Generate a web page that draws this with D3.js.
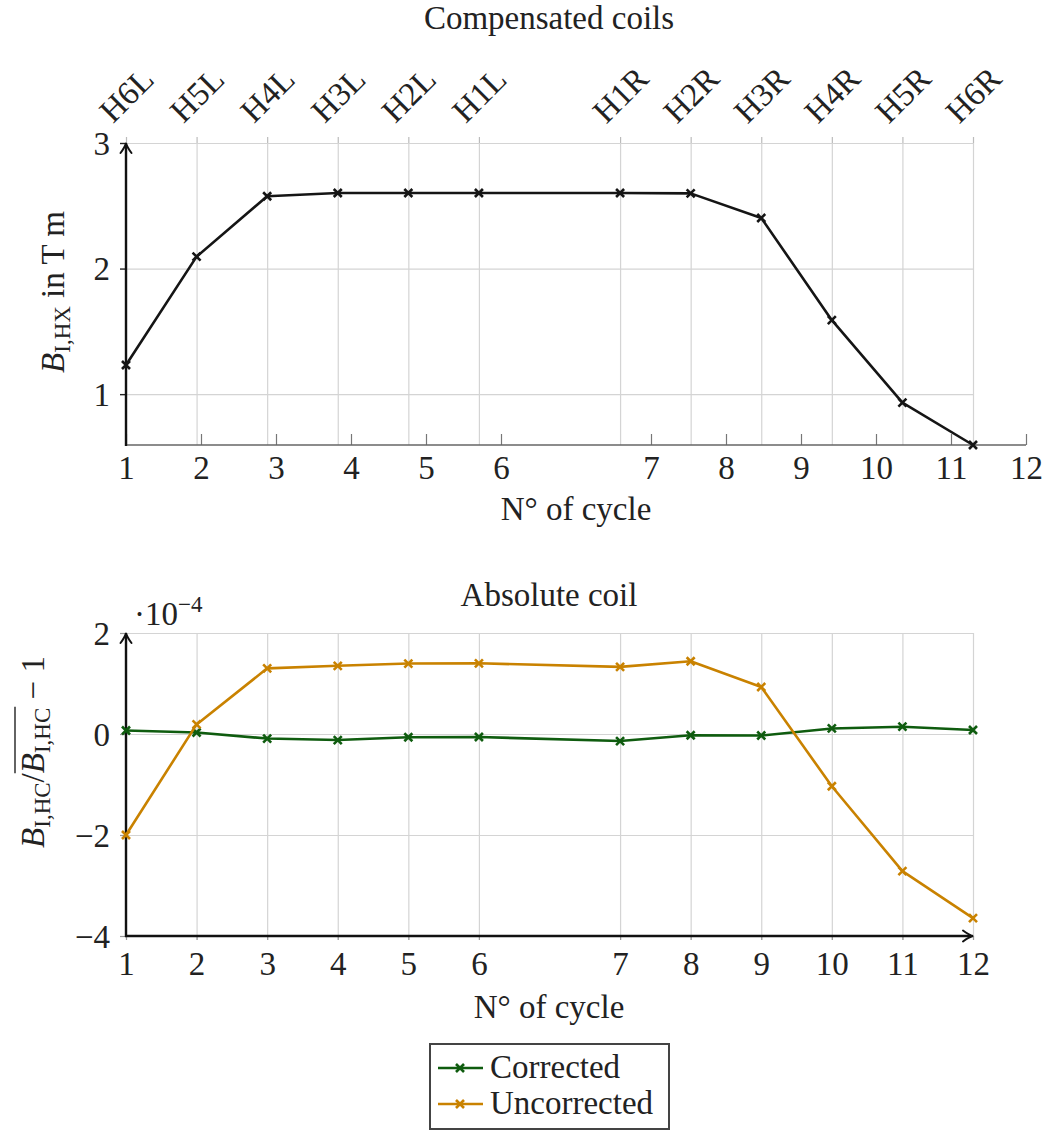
<!DOCTYPE html>
<html>
<head>
<meta charset="utf-8">
<script src="https://cdn.jsdelivr.net/npm/d3@7"></script>
<style>
  body { margin: 0; background: #fff; }
  text { font-family: "Liberation Serif", serif; fill: #222; }
</style>
</head>
<body>
<div id="app"></div>
<script>
// coil names on the top axis, cycle numbers on the bottom axes
const coils = ['H6L', 'H5L', 'H4L', 'H3L', 'H2L', 'H1L', 'H1R', 'H2R', 'H3R', 'H4R', 'H5R', 'H6R'];
const cycles = [1, 2, 3, 4, 5, 6, 7, 8, 9, 10, 11, 12];
// x value of each cycle (one empty slot between H1L and H1R)
const cycleX = [0, 1, 2, 3, 4, 5, 7, 8, 9, 10, 11, 12];

// integrated field of the compensated coils, T m
const fieldInt = [1.232, 2.095, 2.576, 2.602, 2.602, 2.602, 2.602, 2.599, 2.403, 1.589, 0.932, 0.595];
// absolute coil, relative deviation (x 1e-4)
const corrected = [0.07, 0.03, -0.09, -0.12, -0.065, -0.06, -0.14, -0.025, -0.03, 0.11, 0.145, 0.08];
const uncorrected = [-2.0, 0.19, 1.3, 1.35, 1.395, 1.4, 1.33, 1.44, 0.93, -1.035, -2.715, -3.645];

const topYTicks = [1, 2, 3];
const botYTicks = [-4, -2, 0, 2];

const FS = 33;
const GRID = '#d4d4d4';
const GREEN = '#0f5c0f';
const ORANGE = '#c98200';

const svg = d3.select('#app').append('svg')
  .attr('width', 1044).attr('height', 1131);

const xPlot = d3.scaleLinear().domain([0, 12]).range([126, 973]);
const xTopCycle = d3.scaleLinear().domain([0, 12]).range([126, 1026]);
const yTop = d3.scaleLinear().domain([d3.min(fieldInt), 3]).range([445, 143]);
const yBot = d3.scaleLinear().domain([-4, 2]).range([936, 633]);

function styleAxis(g, color, width) {
  g.select('.domain').remove();
  g.selectAll('line').attr('stroke', color).attr('stroke-width', width);
  g.selectAll('text').attr('font-size', FS).attr('font-family', '"Liberation Serif", serif').attr('fill', '#222');
}

const markerPath = 'M-4,-4L4,4M-4,4L4,-4';

function arrowUp(x, y) {
  return `M${x - 5.5},${y + 10} Q${x - 1},${y + 4} ${x},${y} Q${x + 1},${y + 4} ${x + 5.5},${y + 10}`;
}
function arrowRight(x, y) {
  return `M${x - 10},${y - 5.5} Q${x - 4},${y - 1} ${x},${y} Q${x - 4},${y + 1} ${x - 10},${y + 5.5}`;
}

function drawSeries(g, values, x, y, color) {
  const line = d3.line().x((d, i) => x(cycleX[i])).y(d => y(d));
  g.append('path').datum(values)
    .attr('d', line).attr('fill', 'none')
    .attr('stroke', color).attr('stroke-width', 2.6).attr('stroke-linejoin', 'round');
  g.selectAll(null).data(values).enter().append('path')
    .attr('transform', (d, i) => `translate(${x(cycleX[i])},${y(d)})`)
    .attr('d', markerPath).attr('stroke', color).attr('stroke-width', 2.6).attr('fill', 'none');
}

// ---------- top panel ----------
const topPanel = svg.append('g');

topPanel.append('g').attr('transform', 'translate(0,143)')
  .call(d3.axisBottom(xPlot).tickValues(cycleX).tickSize(302).tickFormat(''))
  .call(g => styleAxis(g, GRID, 1.2));
topPanel.append('g').attr('transform', 'translate(126,0)')
  .call(d3.axisLeft(yTop).tickValues(topYTicks).tickSize(-847).tickFormat(''))
  .call(g => styleAxis(g, GRID, 1.2));

// coil names, top axis
topPanel.append('g').attr('transform', 'translate(0,143)')
  .call(d3.axisTop(xPlot).tickValues(cycleX).tickSizeInner(6).tickSizeOuter(0)
    .tickFormat((d, i) => coils[i]))
  .call(g => styleAxis(g, '#bbb', 1.2))
  .call(g => g.selectAll('text')
    .attr('y', 0).attr('dy', null)
    .attr('text-anchor', 'middle')
    .attr('dominant-baseline', 'central')
    .attr('transform', 'translate(0,-48) rotate(-45)'));

// cycle numbers, bottom axis
topPanel.append('g').attr('transform', 'translate(0,445)')
  .call(d3.axisBottom(xTopCycle).tickValues(cycleX).tickSizeInner(-11).tickSizeOuter(0)
    .tickPadding(11).tickFormat((d, i) => cycles[i]))
  .call(g => styleAxis(g, '#777', 1.2));
topPanel.append('line').attr('x1', 126).attr('x2', 1026).attr('y1', 445).attr('y2', 445)
  .attr('stroke', '#666').attr('stroke-width', 1.6);

topPanel.append('g').attr('transform', 'translate(126,0)')
  .call(d3.axisLeft(yTop).tickValues(topYTicks).tickSize(6).tickPadding(10).tickFormat(d3.format('d')))
  .call(g => styleAxis(g, '#222', 1.4))
  .call(g => g.selectAll('text').attr('dy', '0.34em'));
topPanel.append('line').attr('x1', 126).attr('x2', 126).attr('y1', 446).attr('y2', 145)
  .attr('stroke', '#111').attr('stroke-width', 2.4);
topPanel.append('path').attr('d', arrowUp(126, 143))
  .attr('fill', 'none').attr('stroke', '#111').attr('stroke-width', 2).attr('stroke-linecap', 'round');

drawSeries(topPanel, fieldInt, xPlot, yTop, '#151515');

topPanel.append('text').attr('x', 549).attr('y', 29).attr('text-anchor', 'middle')
  .attr('font-size', FS).text('Compensated coils');
topPanel.append('text').attr('x', 576).attr('y', 520).attr('text-anchor', 'middle')
  .attr('font-size', FS).text('N° of cycle');

const yl1 = topPanel.append('text').attr('transform', 'translate(64,292) rotate(-90)')
  .attr('text-anchor', 'middle').attr('font-size', FS);
yl1.append('tspan').attr('font-style', 'italic').text('B');
yl1.append('tspan').attr('font-size', 23).attr('dy', 6).text('I,HX');
yl1.append('tspan').attr('dy', -6).text(' in T m');

// ---------- bottom panel ----------
const botPanel = svg.append('g');

botPanel.append('g').attr('transform', 'translate(0,633)')
  .call(d3.axisBottom(xPlot).tickValues(cycleX).tickSize(307).tickFormat(''))
  .call(g => styleAxis(g, GRID, 1.2));
botPanel.append('g').attr('transform', 'translate(126,0)')
  .call(d3.axisLeft(yBot).tickValues(botYTicks).tickSize(-847).tickFormat(''))
  .call(g => styleAxis(g, GRID, 1.2));

botPanel.append('g').attr('transform', 'translate(0,936)')
  .call(d3.axisBottom(xPlot).tickValues(cycleX).tickSizeInner(4).tickSizeOuter(0)
    .tickPadding(12).tickFormat((d, i) => cycles[i]))
  .call(g => styleAxis(g, '#999', 1.2));
botPanel.append('g').attr('transform', 'translate(126,0)')
  .call(d3.axisLeft(yBot).tickValues(botYTicks).tickSize(6).tickPadding(10).tickFormat(d3.format('d')))
  .call(g => styleAxis(g, '#999', 1.2))
  .call(g => g.selectAll('text').attr('dy', '0.34em'));

botPanel.append('line').attr('x1', 125).attr('x2', 971).attr('y1', 936).attr('y2', 936)
  .attr('stroke', '#111').attr('stroke-width', 2.4);
botPanel.append('path').attr('d', arrowRight(973, 936))
  .attr('fill', 'none').attr('stroke', '#111').attr('stroke-width', 2).attr('stroke-linecap', 'round');
botPanel.append('line').attr('x1', 126).attr('x2', 126).attr('y1', 937).attr('y2', 635)
  .attr('stroke', '#111').attr('stroke-width', 2.4);
botPanel.append('path').attr('d', arrowUp(126, 633))
  .attr('fill', 'none').attr('stroke', '#111').attr('stroke-width', 2).attr('stroke-linecap', 'round');

drawSeries(botPanel, corrected, xPlot, yBot, GREEN);
drawSeries(botPanel, uncorrected, xPlot, yBot, ORANGE);

botPanel.append('text').attr('x', 549).attr('y', 606).attr('text-anchor', 'middle')
  .attr('font-size', FS).text('Absolute coil');
botPanel.append('text').attr('x', 549).attr('y', 1018).attr('text-anchor', 'middle')
  .attr('font-size', FS).text('N° of cycle');

const expo = botPanel.append('text').attr('x', 134).attr('y', 625).attr('font-size', FS);
expo.append('tspan').text('·10');
expo.append('tspan').attr('font-size', 23).attr('dy', -13).text('−4');

const yl2g = botPanel.append('g').attr('transform', 'translate(44,752) rotate(-90)');
const yl2 = yl2g.append('text').attr('text-anchor', 'middle').attr('font-size', FS);
yl2.append('tspan').attr('font-style', 'italic').text('B');
yl2.append('tspan').attr('font-size', 23).attr('dy', 6).text('I,HC');
yl2.append('tspan').attr('dy', -6).text('/');
yl2.append('tspan').attr('font-style', 'italic').text('B');
yl2.append('tspan').attr('font-size', 23).attr('dy', 6).text('I,HC');
yl2.append('tspan').attr('dy', -6).text(' − 1');
const n = yl2.node();
const ox1 = n.getStartPositionOfChar(6).x;
const ox2 = n.getEndPositionOfChar(10).x;
yl2g.append('line').attr('x1', ox1).attr('x2', ox2 + 1).attr('y1', -29).attr('y2', -29)
  .attr('stroke', '#222').attr('stroke-width', 1.4);

// ---------- legend ----------
const legendNames = ['Corrected', 'Uncorrected'];
const legendColors = [GREEN, ORANGE];
const leg = svg.append('g');
leg.append('rect').attr('x', 430).attr('y', 1044).attr('width', 239).attr('height', 85)
  .attr('fill', '#fff').attr('stroke', '#444').attr('stroke-width', 2);
legendNames.forEach((name, i) => {
  const y = 1068 + i * 36;
  leg.append('line').attr('x1', 438).attr('x2', 483).attr('y1', y).attr('y2', y)
    .attr('stroke', legendColors[i]).attr('stroke-width', 2.6);
  leg.append('path').attr('transform', `translate(460,${y})`).attr('d', markerPath)
    .attr('stroke', legendColors[i]).attr('stroke-width', 2.6);
  leg.append('text').attr('x', 490).attr('y', y + 10).attr('font-size', FS).text(name);
});
</script>
</body>
</html>
